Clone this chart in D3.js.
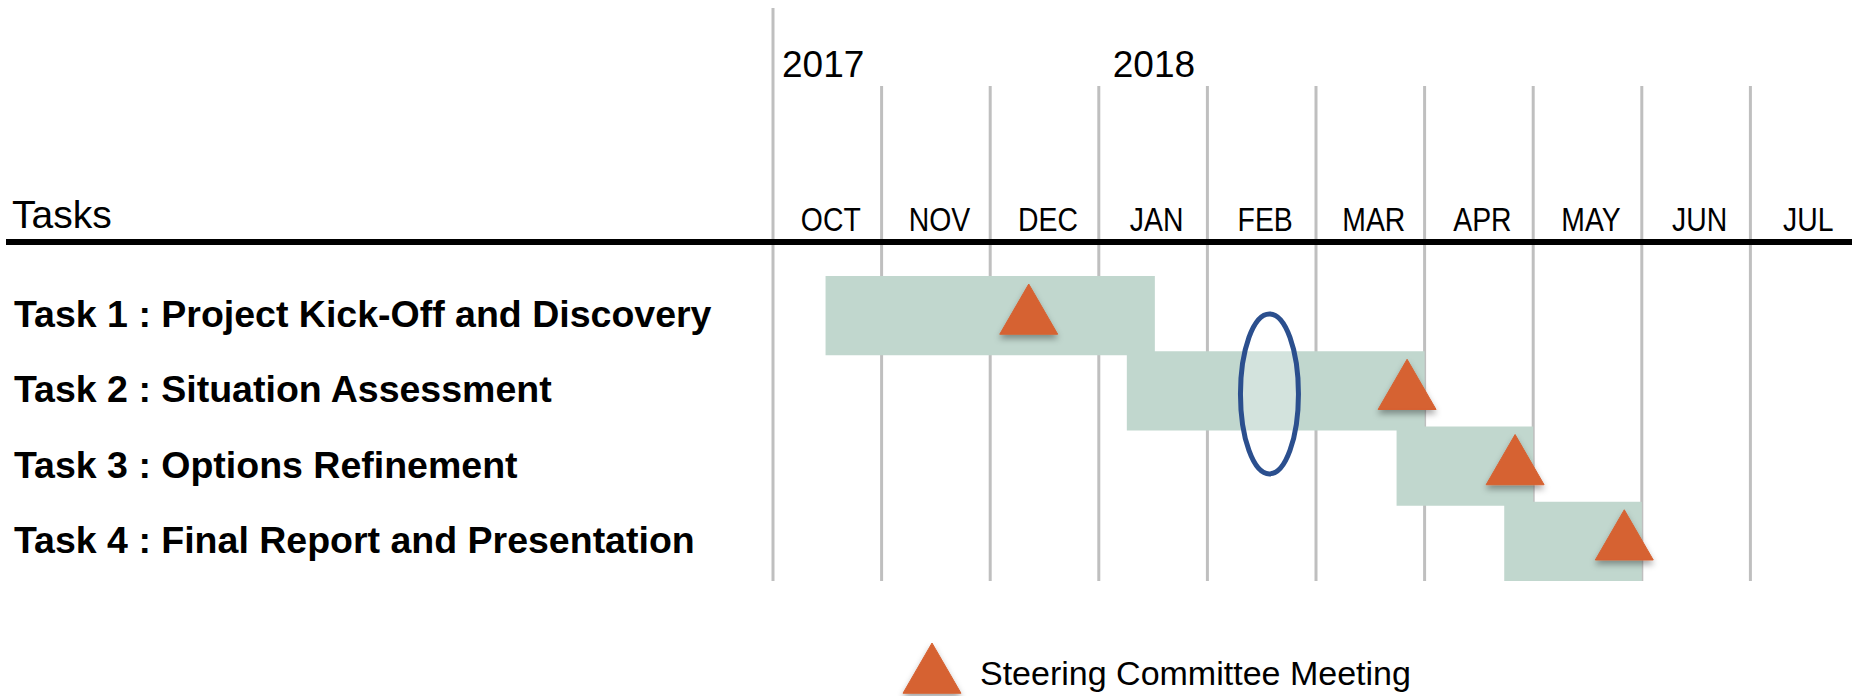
<!DOCTYPE html>
<html>
<head>
<meta charset="utf-8">
<script src="https://cdn.jsdelivr.net/npm/d3@7"></script>
<style>
  body { margin: 0; background: #fff; }
  svg { display: block; }
  text { fill: #000; }
</style>
</head>
<body>
<div id="chart"></div>
<script>
// months shown on the timeline, starting Oct 2017
var months     = ["OCT", "NOV", "DEC", "JAN", "FEB", "MAR", "APR", "MAY", "JUN", "JUL"];
var yearLabels = ["2017", "2018"];
var yearStarts = ["2017-10-01", "2018-01-01"];

var tasks = [
    "Task 1 : Project Kick-Off and Discovery",
    "Task 2 : Situation Assessment",
    "Task 3 : Options Refinement",
    "Task 4 : Final Report and Presentation"
];
var taskStart = ["2017-10-16", "2018-01-09", "2018-03-24", "2018-04-23"];
var taskEnd   = ["2018-01-17", "2018-04-01", "2018-05-01", "2018-06-01"];
var meetings  = ["2017-12-12", "2018-03-27", "2018-04-26", "2018-05-27"];

var highlightTask = "Task 2 : Situation Assessment";
var highlightDate = "2018-02-17";

var legendLabel = "Steering Committee Meeting";

var width  = 1852;
var height = 696;

var parseDate = d3.timeParse("%Y-%m-%d");
var origin = parseDate("2017-10-01");

// fractional month index from the start of the timeline
function monthIndex(s) {
    var d  = parseDate(s);
    var m0 = d3.timeMonth.floor(d);
    var m1 = d3.timeMonth.offset(m0, 1);
    return d3.timeMonth.count(origin, m0) + (d - m0) / (m1 - m0);
}

var svg = d3.select("#chart").append("svg").attr("width", width).attr("height", height);

var defs = svg.append("defs");
var shadow = defs.append("filter").attr("id", "shadow").attr("x", "-30%").attr("y", "-30%").attr("width", "160%").attr("height", "170%");
shadow.append("feDropShadow").attr("dx", 0).attr("dy", 4).attr("stdDeviation", 3).attr("flood-color", "#000").attr("flood-opacity", 0.35);

var x = d3.scaleLinear().domain([0, months.length]).range([773, 1859]);
var y = d3.scaleBand().domain(tasks).range([276, 577]);

var gridTop = 86, gridBottom = 581;

// vertical grid lines on month boundaries
svg.append("g").attr("class", "grid").selectAll("line").data(d3.range(months.length)).enter().append("line")
    .attr("x1", function(d){ return x(d); })
    .attr("x2", function(d){ return x(d); })
    .attr("y1", function(d){ return d === 0 ? 8 : gridTop; })
    .attr("y2", gridBottom)
    .attr("stroke", "#bfbfbf")
    .attr("stroke-width", 3);

// month labels (narrow face in the original, so squeeze a little)
var monthAxis = d3.axisTop(x)
    .tickValues(d3.range(months.length).map(function(i){ return i + 0.5; }))
    .tickFormat(function(d, i){ return months[i]; })
    .tickSize(0).tickPadding(0);

var mAxis = svg.append("g").attr("transform", "translate(3, 231)").call(monthAxis);
mAxis.select(".domain").remove();
mAxis.selectAll("text")
    .attr("font-family", "'Liberation Sans', Arial, sans-serif")
    .attr("font-size", 33)
    .attr("fill", "#000")
    .attr("transform", "scale(0.86,1)");

// year labels
svg.append("g").selectAll("text").data(yearLabels).enter().append("text")
    .attr("x", function(d, i){ return x(monthIndex(yearStarts[i])) + (i === 0 ? 9 : 14); })
    .attr("y", 77)
    .attr("font-family", "'Liberation Sans', Arial, sans-serif")
    .attr("font-size", 37)
    .text(function(d){ return d; });

svg.append("text").attr("x", 12).attr("y", 228)
    .attr("font-family", "'Liberation Sans', Arial, sans-serif")
    .attr("font-size", 39)
    .text("Tasks");

svg.append("line").attr("x1", 6).attr("x2", width).attr("y1", 242).attr("y2", 242)
    .attr("stroke", "#000").attr("stroke-width", 6);

// task bars
svg.append("g").attr("class", "bars").selectAll("rect").data(tasks).enter().append("rect")
    .attr("x", function(d, i){ return x(monthIndex(taskStart[i])); })
    .attr("width", function(d, i){ return x(monthIndex(taskEnd[i])) - x(monthIndex(taskStart[i])); })
    .attr("y", function(d){ return y(d); })
    .attr("height", y.bandwidth() + 4)
    .attr("fill", "#c1d7ce");

// task labels
svg.append("g").selectAll("text").data(tasks).enter().append("text")
    .attr("x", 14)
    .attr("y", function(d){ return y(d) + 51; })
    .attr("font-family", "'Liberation Sans', Arial, sans-serif")
    .attr("font-weight", "bold")
    .attr("font-size", 37.5)
    .text(function(d){ return d; });

// highlight ellipse
svg.append("ellipse")
    .attr("cx", x(monthIndex(highlightDate)))
    .attr("cy", y(highlightTask) + y.bandwidth() / 2 + 5)
    .attr("rx", 29)
    .attr("ry", 80)
    .attr("fill", "#fff").attr("fill-opacity", 0.3)
    .attr("stroke", "#2b4f8e").attr("stroke-width", 5);

// steering committee meetings
var tri = d3.symbol().type(d3.symbolTriangle).size(1457);

svg.append("g").selectAll("path").data(meetings).enter().append("path")
    .attr("d", tri)
    .attr("transform", function(d, i){ return "translate(" + x(monthIndex(d)) + "," + (y(tasks[i]) + 41.5) + ")"; })
    .attr("fill", "#d66232")
    .attr("stroke", "#d66232").attr("stroke-width", 1).attr("stroke-linejoin", "round")
    .attr("filter", "url(#shadow)");

// legend
var legend = svg.append("g").attr("transform", "translate(932, 676.5)");
legend.append("path").attr("d", tri).attr("fill", "#d66232")
    .attr("stroke", "#d66232").attr("stroke-width", 1).attr("stroke-linejoin", "round")
    .attr("filter", "url(#shadow)");
legend.append("text").attr("x", 48).attr("y", 8.5)
    .attr("font-family", "'Liberation Sans', Arial, sans-serif")
    .attr("font-size", 34)
    .text(legendLabel);
</script>
</body>
</html>
